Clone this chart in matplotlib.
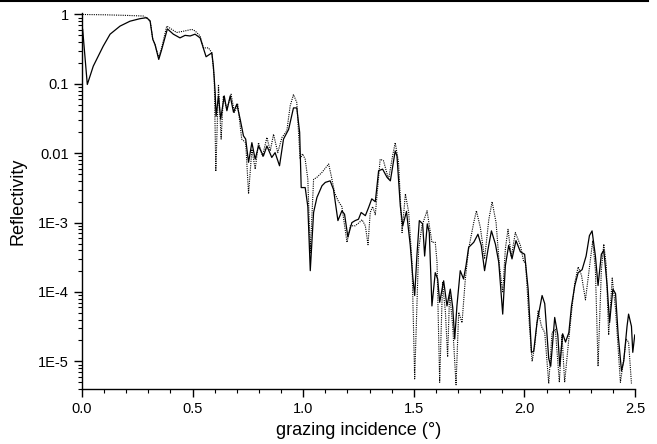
import numpy as np
import matplotlib.pyplot as plt
from matplotlib.lines import Line2D
from matplotlib.ticker import FixedLocator, MultipleLocator, LogLocator, NullFormatter

plt.rcParams['font.family'] = ['Liberation Sans', 'DejaVu Sans']

# measured curve (solid)
x_meas = [0.003, 0.024, 0.051, 0.096, 0.127, 0.172, 0.217, 0.262, 0.293, 0.308, 0.320, 0.330,
          0.347, 0.360, 0.386, 0.413, 0.443, 0.466, 0.489, 0.511, 0.534, 0.561, 0.587, 0.594,
          0.602, 0.606, 0.617, 0.627, 0.643, 0.655, 0.670, 0.685, 0.700, 0.715, 0.730, 0.740,
          0.753, 0.768, 0.783, 0.798, 0.820, 0.836, 0.858, 0.873, 0.893, 0.911, 0.934, 0.956,
          0.971, 0.984, 0.991, 1.009, 1.021, 1.032, 1.047, 1.062, 1.085, 1.100, 1.122, 1.137,
          1.157, 1.175, 1.187, 1.202, 1.220, 1.235, 1.250, 1.262, 1.281, 1.296, 1.310, 1.326,
          1.341, 1.359, 1.379, 1.394, 1.416, 1.424, 1.439, 1.450, 1.467, 1.484, 1.495, 1.504,
          1.514, 1.525, 1.540, 1.549, 1.561, 1.570, 1.582, 1.597, 1.608, 1.617, 1.635, 1.650,
          1.665, 1.676, 1.685, 1.695, 1.710, 1.725, 1.736, 1.748, 1.771, 1.790, 1.805, 1.820,
          1.836, 1.851, 1.869, 1.884, 1.902, 1.914, 1.929, 1.944, 1.962, 1.982, 2.001, 2.017,
          2.032, 2.042, 2.057, 2.080, 2.092, 2.110, 2.119, 2.137, 2.151, 2.160, 2.173, 2.186,
          2.201, 2.213, 2.228, 2.243, 2.261, 2.279, 2.294, 2.306, 2.321, 2.333, 2.348, 2.359,
          2.374, 2.385, 2.400, 2.412, 2.424, 2.439, 2.449, 2.464, 2.471, 2.484, 2.490, 2.499]
r_meas = [0.61, 0.098, 0.18, 0.35, 0.52, 0.68, 0.80, 0.87, 0.90, 0.80, 0.44, 0.37,
          0.225, 0.31, 0.62, 0.52, 0.46, 0.50, 0.49, 0.52, 0.46, 0.246, 0.28, 0.18,
          0.075, 0.034, 0.067, 0.031, 0.067, 0.041, 0.067, 0.039, 0.051, 0.031, 0.0178, 0.016,
          0.0074, 0.0142, 0.0082, 0.0127, 0.0091, 0.0127, 0.0087, 0.0102, 0.0066, 0.016, 0.022, 0.045,
          0.045, 0.020, 0.0032, 0.0032, 0.0017, 0.000203, 0.0014, 0.0023, 0.0034, 0.0038, 0.0040, 0.0030,
          0.00107, 0.00148, 0.00132, 0.00062, 0.00100, 0.00107, 0.00112, 0.0014, 0.00126, 0.00166, 0.0022, 0.0020,
          0.0056, 0.0059, 0.0045, 0.0040, 0.0108, 0.0091, 0.00174, 0.00090, 0.00145, 0.00047, 0.00017, 8.9e-5,
          0.00033, 0.00107, 0.00096, 0.00033, 0.00096, 0.00072, 6.3e-5, 0.00019, 0.000154, 7.1e-5, 0.000145, 6.3e-5,
          0.000110, 6.0e-5, 2.1e-5, 6.3e-5, 0.000203, 0.000154, 0.00024, 0.00044, 0.00052, 0.00068, 0.00047, 0.000203,
          0.00042, 0.00076, 0.00049, 0.00027, 4.8e-5, 0.00024, 0.00047, 0.00030, 0.00055, 0.00038, 0.00035, 0.000110,
          1.35e-5, 1.4e-5, 3.6e-5, 8.9e-5, 6.8e-5, 1.1e-5, 8.5e-6, 4.3e-5, 2.4e-5, 8.5e-6, 2.5e-5, 1.9e-5,
          2.6e-5, 6.3e-5, 0.000124, 0.00019, 0.00021, 0.00033, 0.00065, 0.00076, 0.00033, 0.000124, 0.00035, 0.00040,
          0.000124, 3.6e-5, 0.000110, 9.5e-5, 2.4e-5, 7.3e-6, 1.0e-5, 3.2e-5, 4.8e-5, 3.2e-5, 1.35e-5, 2.4e-5]

# simulated curve (dotted)
x_sim = [0.003, 0.100, 0.202, 0.277, 0.308, 0.320, 0.330, 0.347, 0.360, 0.383, 0.428, 0.466,
         0.496, 0.511, 0.534, 0.549, 0.572, 0.587, 0.598, 0.605, 0.617, 0.629, 0.639, 0.655,
         0.674, 0.689, 0.704, 0.722, 0.740, 0.753, 0.768, 0.783, 0.798, 0.816, 0.836, 0.851,
         0.866, 0.885, 0.904, 0.926, 0.941, 0.956, 0.971, 0.986, 0.997, 1.009, 1.021, 1.032,
         1.047, 1.062, 1.085, 1.115, 1.127, 1.142, 1.160, 1.175, 1.198, 1.213, 1.235, 1.253,
         1.266, 1.281, 1.293, 1.303, 1.314, 1.326, 1.348, 1.363, 1.386, 1.404, 1.416, 1.431,
         1.447, 1.462, 1.477, 1.492, 1.504, 1.522, 1.537, 1.560, 1.582, 1.597, 1.605, 1.617,
         1.630, 1.643, 1.653, 1.662, 1.676, 1.691, 1.703, 1.718, 1.733, 1.748, 1.771, 1.783,
         1.801, 1.820, 1.839, 1.854, 1.872, 1.887, 1.902, 1.914, 1.926, 1.941, 1.959, 1.982,
         1.997, 2.005, 2.023, 2.035, 2.047, 2.062, 2.077, 2.092, 2.110, 2.125, 2.140, 2.158,
         2.170, 2.182, 2.198, 2.213, 2.228, 2.243, 2.258, 2.276, 2.291, 2.309, 2.321, 2.333,
         2.348, 2.359, 2.370, 2.381, 2.397, 2.412, 2.424, 2.434, 2.449, 2.460, 2.471, 2.484]
r_sim = [1.0, 0.99, 0.97, 0.95, 0.82, 0.44, 0.37, 0.24, 0.33, 0.68, 0.55, 0.58,
         0.61, 0.58, 0.49, 0.33, 0.33, 0.28, 0.12, 0.0055, 0.098, 0.016, 0.067, 0.043,
         0.071, 0.039, 0.051, 0.016, 0.0142, 0.0026, 0.0114, 0.0059, 0.0142, 0.0091, 0.0169, 0.0108,
         0.0188, 0.0102, 0.0169, 0.021, 0.048, 0.070, 0.054, 0.0082, 0.0098, 0.0082, 0.0042, 0.00037,
         0.0042, 0.0045, 0.0053, 0.0070, 0.0047, 0.0027, 0.0020, 0.0017, 0.00052, 0.00090, 0.00090, 0.0010,
         0.0011, 0.00090, 0.00048, 0.0014, 0.0017, 0.0013, 0.0082, 0.0078, 0.0042, 0.0091, 0.0142, 0.0074,
         0.00072, 0.0026, 0.0014, 0.00026, 5.6e-6, 0.00042, 0.00090, 0.00148, 0.00052, 0.00052, 0.00027, 5.0e-6,
         0.000137, 5.1e-5, 1.16e-5, 9.8e-5, 3.2e-5, 4.6e-6, 5.1e-5, 3.6e-5, 0.000154, 0.00042, 0.00100, 0.00148,
         0.00085, 0.00030, 0.0011, 0.0020, 0.0010, 0.00024, 9.8e-5, 0.00042, 0.00080, 0.00032, 0.00072, 0.00047,
         0.00027, 0.00027, 3.2e-5, 1.0e-5, 1.7e-5, 5.4e-5, 3.2e-5, 2.6e-5, 4.8e-6, 2.6e-5, 2.9e-5, 5.0e-6,
         2.4e-5, 5.0e-6, 1.7e-5, 5.1e-5, 0.000137, 0.00023, 0.000175, 7.7e-5, 0.00019, 0.00055, 0.00021, 8.5e-6,
         0.00021, 0.00049, 0.00024, 2.4e-5, 0.000159, 5.7e-5, 1.5e-5, 5.0e-6, 1.06e-5, 2.1e-5, 1.9e-5, 4.8e-6]

y_ticks = [1, 0.1, 0.01, 1e-3, 1e-4, 1e-5]
y_labels = ['1', '0.1', '0.01', '1E-3', '1E-4', '1E-5']

fig = plt.figure(figsize=(6.57, 4.44), dpi=100)
ax = fig.add_axes([0.1248, 0.1239, 0.8417, 0.8468])

ax.plot(x_sim, r_sim, color='black', lw=0.8, linestyle=(0, (1, 1)))
ax.plot(x_meas, r_meas, color='black', lw=0.9)

ax.set_yscale('log')
ax.set_xlim(0, 2.5)
ax.set_ylim(4e-6, 1.05)

ax.xaxis.set_major_locator(MultipleLocator(0.5))
ax.xaxis.set_minor_locator(MultipleLocator(0.1))
ax.xaxis.set_major_formatter(plt.FuncFormatter(lambda v, p: '%.1f' % v))
ax.yaxis.set_major_locator(FixedLocator(y_ticks))
ax.set_yticklabels(y_labels)
ax.yaxis.set_minor_locator(LogLocator(base=10, subs=np.arange(2, 10), numticks=20))
ax.yaxis.set_minor_formatter(NullFormatter())

ax.tick_params(which='major', direction='out', length=6, width=1, labelsize=10.5, color='black')
ax.tick_params(which='minor', direction='out', length=3, width=0.8)

ax.spines['top'].set_visible(False)
ax.spines['right'].set_visible(False)
ax.spines['left'].set_linewidth(1.0)
ax.spines['bottom'].set_linewidth(1.0)

ax.set_xlabel('grazing incidence (°)', fontsize=13, labelpad=4)
ax.set_ylabel('Reflectivity', fontsize=13, labelpad=8)

# thin border line at the top edge of the picture
fig.add_artist(Line2D([0, 648 / 657], [0.998, 0.998], transform=fig.transFigure, color='black', lw=1.5))

fig.savefig('out.png', dpi=100)
